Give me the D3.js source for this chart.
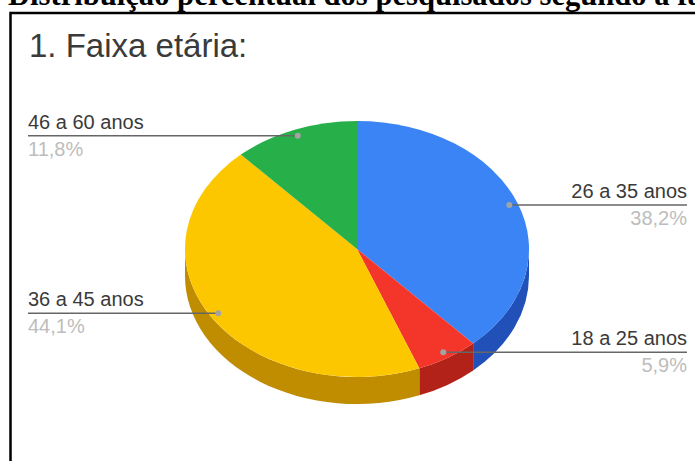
<!DOCTYPE html>
<html lang="pt">
<head>
<meta charset="utf-8">
<title>Faixa etária</title>
<script src="https://cdn.jsdelivr.net/npm/d3@7/dist/d3.min.js"></script>
<style>
  html, body { margin: 0; padding: 0; background: #fff; }
  svg { display: block; }
  text { font-family: "Liberation Sans", Arial, sans-serif; }
</style>
</head>
<body>
<svg id="chart" width="695" height="461"></svg>
<script>
// Age bands and their survey shares, clockwise from twelve o'clock
const categories = ["26 a 35 anos", "18 a 25 anos", "36 a 45 anos", "46 a 60 anos"];
const shares = [38.2, 5.9, 44.1, 11.8];
const shareLabels = ["38,2%", "5,9%", "44,1%", "11,8%"];
const topColors = ["#3a84f5", "#f4352a", "#fdc700", "#27b04a"];
const sideColors = ["#2150b8", "#b32218", "#c08c00", "#1c8437"];
const labelSides = ["right", "right", "left", "left"];
const heading = "Distribuição percentual dos pesquisados segundo a faixa etária";
const chartTitle = "1. Faixa etária:";

const svg = d3.select("#chart");

// Pie geometry: a flattened disc with a visible rim
const cx = 357, cy = 249, rx = 172, ry = 128, rim = 27;
const leftEdge = 28, rightEdge = 687;

// Page heading, running past the page edge, and the frame below it
svg.append("text")
  .attr("x", 8).attr("y", 5)
  .style("font-family", "'Liberation Serif', serif")
  .attr("font-weight", "bold").attr("font-size", 30.6).attr("fill", "#000")
  .text(heading);
svg.append("path")
  .attr("d", "M10.5,461V13H695")
  .attr("fill", "none").attr("stroke", "#000").attr("stroke-width", 2.5);

svg.append("text")
  .attr("x", 29).attr("y", 57)
  .attr("font-size", 33).attr("fill", "#3a3a3a")
  .text(chartTitle);

const slices = d3.pie().sort(null).value(d => d)(shares);

// Ellipse coordinates for an angle measured clockwise from the top
const px = a => cx + rx * Math.sin(a);
const py = a => cy - ry * Math.cos(a);

// Rim: only the front half of the disc (90° to 270°) shows its side
const frontStart = Math.PI / 2, frontEnd = 3 * Math.PI / 2;
const rimPath = (a0, a1) => {
  const s = Math.max(a0, frontStart), e = Math.min(a1, frontEnd);
  if (e <= s) return null;
  return `M${px(s)},${py(s)}` +
    `A${rx},${ry} 0 0 1 ${px(e)},${py(e)}` +
    `L${px(e)},${py(e) + rim}` +
    `A${rx},${ry} 0 0 0 ${px(s)},${py(s) + rim}Z`;
};

svg.append("g").selectAll("path")
  .data(slices)
  .join("path")
  .attr("d", d => rimPath(d.startAngle, d.endAngle))
  .attr("fill", (d, i) => sideColors[i]);

// Top face: a circular arc squashed vertically
const arc = d3.arc().innerRadius(0).outerRadius(rx);
svg.append("g")
  .attr("transform", `translate(${cx},${cy}) scale(1,${ry / rx})`)
  .selectAll("path")
  .data(slices)
  .join("path")
  .attr("d", arc)
  .attr("fill", (d, i) => topColors[i]);

// Leader lines run from a dot near each slice's rim to the chart edge
const anchorRadius = 0.95;
const anchors = slices.map(d => {
  const mid = (d.startAngle + d.endAngle) / 2;
  return [cx + anchorRadius * rx * Math.sin(mid), cy - anchorRadius * ry * Math.cos(mid)];
});

const leaders = svg.append("g");
slices.forEach((d, i) => {
  const [ax, ay] = anchors[i];
  const right = labelSides[i] === "right";
  const edge = right ? rightEdge : leftEdge;
  const anchor = right ? "end" : "start";

  leaders.append("line")
    .attr("x1", ax).attr("y1", ay).attr("x2", edge).attr("y2", ay)
    .attr("stroke", "#666").attr("stroke-width", 1.5);
  leaders.append("circle")
    .attr("cx", ax).attr("cy", ay).attr("r", 3)
    .attr("fill", "#a3a3a3");
  leaders.append("text")
    .attr("x", edge).attr("y", ay - 7)
    .attr("text-anchor", anchor).attr("font-size", 20).attr("fill", "#3a3a3a")
    .text(categories[i]);
  leaders.append("text")
    .attr("x", edge).attr("y", ay + 20)
    .attr("text-anchor", anchor).attr("font-size", 20).attr("fill", "#bdbdbd")
    .text(shareLabels[i]);
});
</script>
</body>
</html>
